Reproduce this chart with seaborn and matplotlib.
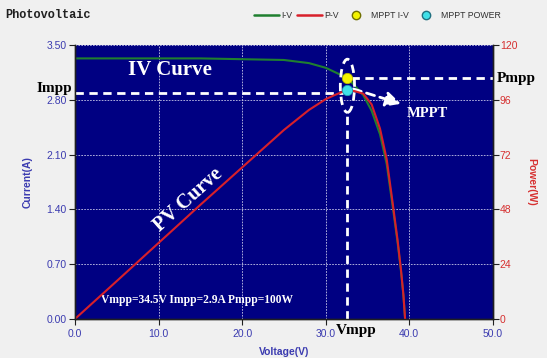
import matplotlib
matplotlib.use("Agg")
import matplotlib.pyplot as plt
from matplotlib.lines import Line2D
from matplotlib.patches import Ellipse
import pandas as pd
import seaborn as sns

# Panel measurements
voltage = [0, 5, 10, 15, 20, 25, 28, 30, 31, 32, 32.6, 33.5, 34.5, 35.5,
           36.5, 37.3, 38.0, 38.6, 39.0, 39.3, 39.5]
current = [3.33, 3.33, 3.33, 3.33, 3.32, 3.31, 3.27, 3.21, 3.16, 3.11, 3.08,
           2.98, 2.86, 2.66, 2.36, 1.98, 1.45, 0.98, 0.62, 0.30, 0.00]
power = [0, 16.6, 33.3, 50.0, 66.4, 82.8, 91.6, 96.3, 98.0, 99.5, 100.4,
         99.8, 98.7, 94.0, 83.4, 70.0, 51.2, 34.6, 21.9, 10.6, 0]

# Maximum power point
mpp_v = [32.6]
mpp_i = [3.08]
mpp_p = [100.4]
impp_line = 2.89

x_ticks = [0, 10, 20, 30, 40, 50]
i_ticks = [0.0, 0.7, 1.4, 2.1, 2.8, 3.5]
p_ticks = [0, 24, 48, 72, 96, 120]

df = pd.DataFrame({"Voltage": voltage, "Current": current, "Power": power})

sns.set_style("white")
plt.rcParams["font.family"] = ["Liberation Sans", "DejaVu Sans"]

BLUE_TXT = "#3b3bb0"
RED_TXT = "#d63030"
NAVY = "#000082"
GREEN = "#1f7f2f"
RED = "#d8202a"
SERIF = "Liberation Serif"

fig = plt.figure(figsize=(5.47, 3.58), dpi=100)
fig.patch.set_facecolor("#f0f0f0")
ax = fig.add_axes([0.137, 0.109, 0.764, 0.765])
ax.set_facecolor(NAVY)
ax2 = ax.twinx()

ax.set_xlim(0, 50)
ax.set_ylim(0, 3.5)
ax2.set_ylim(0, 120)

ax.grid(True, color="#c8c8e8", linestyle=(0, (2, 1.5)), linewidth=0.6)
ax.set_axisbelow(True)

sns.lineplot(data=df, x="Voltage", y="Current", ax=ax, color=GREEN,
             linewidth=1.5, sort=False, estimator=None)
sns.lineplot(data=df, x="Voltage", y="Power", ax=ax2, color=RED,
             linewidth=1.5, sort=False, estimator=None)

# Dashed guide lines for the maximum power point
dash = dict(color="white", linestyle=(0, (3, 2)), linewidth=2.0, zorder=5)
ax.plot([0, mpp_v[0] - 0.5], [impp_line, impp_line], **dash)
ax.plot([mpp_v[0] + 0.4, 50], [mpp_i[0], mpp_i[0]], **dash)
ax.plot([mpp_v[0], mpp_v[0]], [0, 2.6], **dash)
ax.add_patch(Ellipse((mpp_v[0], 2.98), width=1.7, height=0.68, fill=False,
                     edgecolor="white", linestyle=(0, (3, 2)), linewidth=2.0,
                     zorder=5))
ax.annotate("", xy=(39.0, 2.75), xytext=(33.3, 2.94),
            arrowprops=dict(arrowstyle="-|>,head_length=0.9,head_width=0.45",
                            color="white", linestyle=(0, (3, 2)),
                            linewidth=2.0, shrinkA=0, shrinkB=0), zorder=6)

sns.scatterplot(x=mpp_v, y=mpp_i, ax=ax, color="#f4f400", edgecolor="#b8b800",
                s=55, zorder=7, linewidth=0.6)
sns.scatterplot(x=mpp_v, y=mpp_p, ax=ax2, color="#40e0e8", edgecolor="#20a0b0",
                s=55, zorder=7, linewidth=0.6)

# Axes styling
ax.set_xticks(x_ticks)
ax.set_xticklabels([f"{v:.1f}" for v in x_ticks])
ax.set_yticks(i_ticks)
ax.set_yticklabels([f"{v:.2f}" for v in i_ticks])
ax2.set_yticks(p_ticks)
ax2.set_yticklabels([str(v) for v in p_ticks])

ax.tick_params(axis="both", colors="#202020", labelcolor=BLUE_TXT,
               labelsize=7.5, length=4, width=0.8, direction="out",
               left=True, bottom=True)
ax2.tick_params(axis="y", colors="#202020", labelcolor=RED_TXT,
                labelsize=7.5, length=4, width=0.8, direction="out",
                right=True, pad=1)
ax.tick_params(axis="y", pad=2)
ax.tick_params(axis="x", pad=3)

for a in (ax, ax2):
    for side in ("left", "bottom", "right"):
        a.spines[side].set_color("#202020")
        a.spines[side].set_linewidth(1.0)
    a.spines["top"].set_visible(False)

ax.set_xlabel("Voltage(V)", color=BLUE_TXT, fontsize=7.5, fontweight="bold",
              labelpad=6)
ax.set_ylabel("Current(A)", color=BLUE_TXT, fontsize=7.5, fontweight="bold",
              labelpad=10)
ax2.set_ylabel("Power(W)", color=RED_TXT, fontsize=7.5, fontweight="bold",
               rotation=270, labelpad=14)

# Curve and point labels
ax.text(11.4, 3.18, "IV Curve", color="white", family=SERIF,
        fontweight="bold", fontsize=15, ha="center", va="center", zorder=8)
ax.text(13.6, 1.52, "PV Curve", color="white", family=SERIF,
        fontweight="bold", fontsize=14.5, ha="center", va="center",
        rotation=42, zorder=8)
ax.text(14.6, 0.24, "Vmpp=34.5V Impp=2.9A Pmpp=100W", color="white",
        family=SERIF, fontweight="bold", fontsize=8.3, ha="center",
        va="center", zorder=8)
ax.text(42.2, 2.62, "MPPT", color="white", family=SERIF, fontweight="bold",
        fontsize=10.5, ha="center", va="center", zorder=8)

fig.text(0.132, 0.752, "Impp", color="black", family=SERIF, fontweight="bold",
         fontsize=11, ha="right", va="center")
fig.text(0.908, 0.782, "Pmpp", color="black", family=SERIF, fontweight="bold",
         fontsize=11, ha="left", va="center")
fig.text(0.651, 0.077, "Vmpp", color="black", family=SERIF, fontweight="bold",
         fontsize=11, ha="center", va="center")

fig.text(0.01, 0.957, "Photovoltaic", family="Liberation Mono",
         fontweight="bold", fontsize=8.6, ha="left", va="center", color="#202020")

handles = [
    Line2D([], [], color=GREEN, linewidth=1.8, label="I-V"),
    Line2D([], [], color=RED, linewidth=1.8, label="P-V"),
    Line2D([], [], linestyle="none", marker="o", markersize=6,
           markerfacecolor="#f4f400", markeredgecolor="#707000", label="MPPT I-V"),
    Line2D([], [], linestyle="none", marker="o", markersize=6,
           markerfacecolor="#40e0e8", markeredgecolor="#207080",
           label="MPPT POWER"),
]
fig.legend(handles=handles, loc="center right", bbox_to_anchor=(0.922, 0.957),
           ncol=4, frameon=False, fontsize=6.3, handlelength=2.8,
           handletextpad=0.3, columnspacing=0.55, labelcolor="#303030",
           borderaxespad=0)

fig.savefig("out.png", dpi=100, facecolor=fig.get_facecolor())
